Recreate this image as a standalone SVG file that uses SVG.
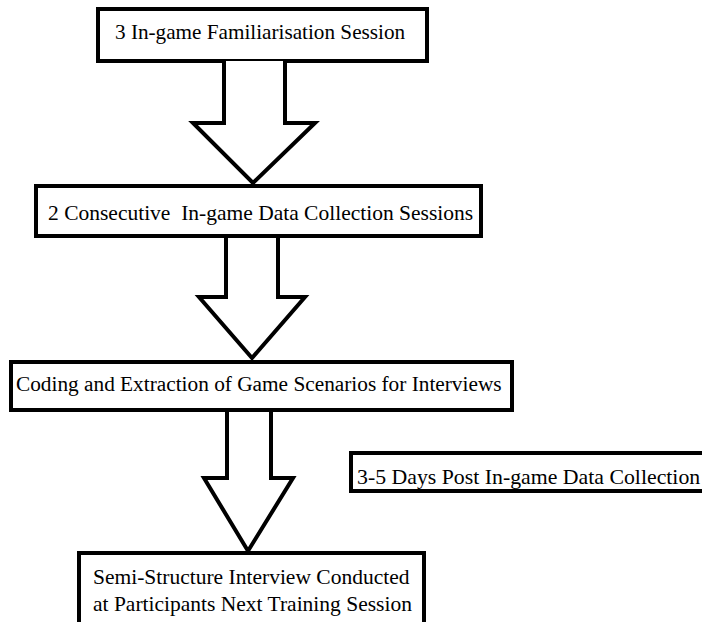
<svg xmlns="http://www.w3.org/2000/svg" width="702" height="622" viewBox="0 0 702 622">
<style>
.box{fill:#fff;stroke:#000;stroke-width:4}
.arr{fill:#fff;stroke:#000;stroke-width:4;stroke-linejoin:miter}
</style>
<rect width="702" height="622" fill="#fff"/>
<g font-family="Liberation Serif, serif" font-size="21.5" fill="#000">
<g id="n1"><rect class="box" x="98" y="9" width="329" height="52"/><text x="115" y="39" font-size="21.2">3 In-game Familiarisation Session</text></g>
<g id="n2"><rect class="box" x="36" y="186" width="445" height="50"/><text x="48" y="220" xml:space="preserve">2 Consecutive  In-game Data Collection Sessions</text></g>
<g id="n3"><rect class="box" x="11" y="362" width="501" height="48"/><text x="16" y="391" font-size="21.3">Coding and Extraction of Game Scenarios for Interviews</text></g>
<g id="n4"><rect class="box" x="351" y="453" width="400" height="38"/><text x="357" y="484" font-size="21.8">3-5 Days Post In-game Data Collection</text></g>
<g id="n5"><rect class="box" x="79" y="553" width="345" height="100"/><text x="93" y="584">Semi-Structure Interview Conducted</text><text x="93" y="611">at Participants Next Training Session</text></g>
</g>
<g id="connectors">
<path class="arr" d="M224 61 L224 123 L193 123 L253 183 L315 123 L285 123 L285 61"/>
<path class="arr" d="M226 238 L226 297 L199 297 L252 358 L305 297 L278 297 L278 238"/>
<path class="arr" d="M227 412 L227 478 L204 478 L248 551 L293 478 L271 478 L271 412"/>
</g>
</svg>
